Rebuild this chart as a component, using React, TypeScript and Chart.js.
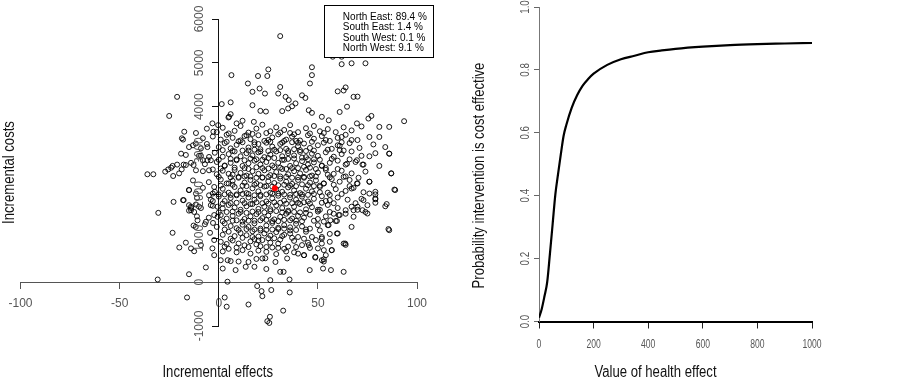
import React, { useEffect, useRef } from "react";
import { Chart, registerables } from "chart.js";

Chart.register(...registerables);

// ---------- Left panel: cost-effectiveness plane ----------
const effectTicks = [-100, -50, 0, 50, 100];
const costTicks = [-1000, 0, 1000, 2000, 3000, 4000, 5000, 6000];
const quadrantLabels = [
  "North East: 89.4 %",
  "South East: 1.4 %",
  "South West: 0.1 %",
  "North West: 9.1 %",
];
const meanPoint: [number, number] = [28.3, 2140];
const planeXTitle = "Incremental effects";
const planeYTitle = "Incremental costs";

// simulated (incremental effect, incremental cost) pairs
const simulationDraws: [number, number][] = [
  // upper sparse region
  [31, 5610], [57.5, 5140], [62, 5140], [67, 4990], [62, 4970], [74, 4990], [47, 4900], [47, 4720],
  [46, 4530], [64, 4440], [60, 4350], [63, 4370], [68, 4225], [70, 4230], [31, 4450], [30, 4300],
  [33.7, 4225], [35.3, 4150], [42, 4260], [43.7, 4200], [38.7, 4075], [37, 4010], [35, 3960], [32, 3900],
  [45.4, 3920], [47, 3860], [52, 3770], [55.5, 3690], [61, 3880], [64.7, 4000], [69.7, 3620], [75.5, 3730],
  [77, 3790], [81, 3540], [86, 3540], [93.5, 3670], [6.4, 4720], [25, 4850], [19.8, 4700], [24.5, 4700],
  [14.7, 4530], [20.6, 4415], [17, 4340], [23.3, 4300], [-21, 4225], [1.5, 4060], [6, 4100], [17, 4035],
  [-25, 3790], [6, 3830], [4.9, 3755], [21, 3905], [23.8, 3890], [-0.3, 3580], [9, 3620], [12, 3680],
  [17.7, 3655], [5.2, 3770], [-3.2, 3620],
  // left sparse region
  [-36, 2460], [-33, 2460], [-30.5, 1580], [-22.8, 1830], [-17.7, 1870], [-24, 2610], [-25.5, 2570],
  [-23, 2420], [-18.7, 2570], [-16.6, 2670], [-12.7, 2670], [-15, 2100], [-11.5, 2020], [-14, 1720],
  [-15, 1630], [-11.6, 1770], [-10, 1720], [-18, 3250], [-17.4, 3430], [-11.5, 3400], [-15, 3080],
  [-9, 3050], [-4.9, 2855], [-4, 2780], [-3, 2570], [-8, 2780], [-11.5, 2550], [-9, 2880], [-2.7, 3430],
  [-6.5, 1375], [-10.7, 1410], [-12.7, 1290], [-3, 2020], [-2.3, 2170], [-3, 1850], [-0.6, 1490],
  [-0.6, 1720], [-23.3, 1125], [-15, 180], [-6.5, 335], [-16.6, 900], [-19.9, 790], [-14, 770],
  [-12.4, 705], [-9, 845], [-2.3, 615], [-3.2, 770], [-2.3, 960], [-11.6, 1260], [-4.4, 1125],
  [-2.9, 1350], [-14, 1640], [-12.4, 1600], [-15, 1755], [-4, 1755], [-2.3, 1530], [-4.9, 1980],
  [-30.8, 60], [-16, -350], [-18.6, 3280], [-11.6, 3160], [-16.6, 2900], [-23.3, 2650], [-17.7, 2680],
  [-5.7, 3080], [-5.7, 2780], [-4.9, 2550],
  // core rows
  [2, 3520], [8, 3450], [11, 3560], [15, 3410], [19, 3500], [22, 3590], [26, 3440], [29, 3530],
  [33, 3470], [36, 3580], [40, 3420], [44, 3510], [48, 3560], [51, 3440], [55, 3490], [59, 3420],
  [63, 3530], [67, 3460], [72, 3550], [-6, 3500], [-1, 3420],
  [-8, 3280], [-3, 3320], [1, 3250], [4, 3360], [7, 3290], [10, 3210], [13, 3330], [16, 3260],
  [20, 3350], [23, 3220], [27, 3300], [30, 3370], [34, 3250], [37, 3320], [41, 3230], [45, 3350],
  [48, 3270], [52, 3330], [56, 3220], [60, 3290], [64, 3360], [70, 3240], [76, 3310],
  [-13, 3120], [-6, 3150], [0, 3080], [3, 3170], [6, 3050], [9, 3130], [12, 3190], [15, 3070],
  [18, 3140], [21, 3030], [24, 3180], [27, 3090], [31, 3150], [34, 3040], [37, 3190], [40, 3100],
  [43, 3160], [46, 3060], [50, 3120], [53, 3180], [57, 3040], [61, 3110], [66, 3170], [71, 3060],
  [78, 3140], [84, 3080],
  [-19, 2930], [-10, 2880], [-2, 2950], [2, 2860], [5, 2920], [8, 2980], [11, 2870], [14, 2940],
  [17, 2890], [20, 2960], [23, 2850], [26, 2910], [29, 2980], [32, 2870], [35, 2940], [38, 2890],
  [41, 2970], [44, 2850], [47, 2930], [50, 2880], [54, 2960], [58, 2860], [62, 2920], [67, 2980],
  [72, 2880], [79, 2940], [86, 2930],
  [-21, 2680], [-14, 2720], [-7, 2690], [-1, 2740], [3, 2660], [6, 2720], [9, 2780], [12, 2650],
  [15, 2710], [18, 2770], [21, 2680], [24, 2740], [27, 2660], [30, 2720], [33, 2790], [36, 2650],
  [39, 2710], [42, 2760], [45, 2680], [48, 2730], [52, 2660], [56, 2720], [60, 2770], [64, 2680],
  [69, 2740], [73, 2680], [81, 2650],
  [-27, 2520], [-20, 2480], [-8, 2530], [-1, 2460], [2, 2540], [5, 2470], [8, 2560], [11, 2490],
  [14, 2430], [17, 2530], [20, 2470], [23, 2550], [26, 2440], [29, 2510], [32, 2580], [35, 2460],
  [38, 2530], [41, 2480], [44, 2560], [47, 2430], [50, 2500], [54, 2560], [58, 2470], [62, 2540],
  [67, 2480], [74, 2520], [87, 2480],
  [-13, 2320], [-5, 2280], [1, 2340], [4, 2250], [7, 2310], [10, 2380], [13, 2270], [16, 2330],
  [19, 2250], [22, 2390], [25, 2300], [28, 2260], [31, 2360], [34, 2290], [37, 2240], [40, 2330],
  [43, 2380], [46, 2270], [49, 2320], [53, 2250], [57, 2350], [61, 2290], [66, 2330], [70, 2250],
  [76, 2290],
  [-15, 2100], [-8, 2150], [-2, 2060], [2, 2130], [5, 2040], [8, 2170], [11, 2090], [14, 2030],
  [17, 2140], [20, 2070], [23, 2180], [26, 2040], [29, 2110], [32, 2060], [35, 2160], [38, 2090],
  [41, 2030], [44, 2130], [47, 2070], [51, 2170], [55, 2040], [59, 2120], [64, 2080], [68, 2150],
  [73, 2050], [79, 2060], [89, 2100],
  [-18, 1870], [-11, 1920], [-4, 1880], [0, 1950], [3, 1850], [6, 1920], [9, 1980], [12, 1860],
  [15, 1930], [18, 1880], [21, 1960], [24, 1840], [27, 1910], [30, 1970], [33, 1860], [36, 1930],
  [39, 1880], [42, 1950], [45, 1840], [48, 1900], [52, 1960], [56, 1870], [60, 1930], [65, 1880],
  [72, 1900], [79, 1890],
  [-14, 1690], [-9, 1690], [-3, 1740], [2, 1680], [5, 1760], [8, 1700], [11, 1650], [14, 1730],
  [17, 1780], [20, 1670], [23, 1720], [26, 1660], [29, 1750], [32, 1690], [35, 1630], [38, 1720],
  [41, 1780], [44, 1660], [47, 1710], [51, 1650], [55, 1760], [60, 1690], [64, 1640], [70, 1720],
  [75, 1755], [84, 1730],
  [-11, 1500], [-5, 1470], [1, 1530], [4, 1450], [7, 1510], [10, 1560], [13, 1440], [16, 1500],
  [19, 1550], [22, 1460], [25, 1520], [28, 1430], [31, 1490], [34, 1560], [37, 1450], [40, 1510],
  [43, 1470], [46, 1540], [50, 1440], [54, 1500], [58, 1560], [61, 1530], [68, 1490], [75, 1565],
  [-7, 1320], [-1, 1260], [3, 1340], [6, 1280], [9, 1230], [12, 1310], [15, 1260], [18, 1340],
  [21, 1220], [24, 1290], [27, 1350], [30, 1240], [33, 1300], [36, 1250], [39, 1330], [42, 1270],
  [46, 1220], [50, 1300], [55, 1300], [59, 1395], [67, 1260],
  [2, 1080], [5, 1150], [8, 1050], [11, 1120], [14, 1070], [17, 1160], [20, 1040], [23, 1110],
  [26, 1060], [29, 1140], [33, 1080], [36, 1110], [40, 1030], [44, 1150], [47, 1030], [52, 1030],
  [56, 1100], [60, 1110], [86, 1185],
  [1, 920], [4, 870], [7, 950], [10, 880], [13, 840], [16, 930], [19, 860], [22, 960], [26, 900],
  [30, 880], [35, 810], [38, 940], [42, 845], [45, 900], [52, 880], [56, 920], [63, 880], [64, 850],
  [2, 700], [5, 760], [9, 680], [12, 730], [16, 650], [20, 720], [24, 690], [29, 640], [34, 700],
  [38, 680], [40, 650], [43, 615], [50, 770], [53, 730], [57, 730],
  [1, 500], [4.5, 500], [6, 480], [10, 470], [15, 460], [19, 530], [22, 540], [23.5, 545], [28.6, 460],
  [34.5, 540], [48.7, 560], [53, 520], [53, 470], [54, 615],
  [2, 310], [8.5, 275], [13.6, 350], [31, 235], [32.7, 235], [45.9, 275], [52.6, 310], [56.6, 275],
  [63, 235], [18, 350], [24, 300],
  // below the effects axis
  [4.4, 10], [19.4, -90], [21.6, -205], [22, -320], [26.5, -180], [26, 45], [35.8, -235],
  [35.7, 60], [32.5, -650], [25.8, -790], [24.5, -890], [25.5, -930], [3, -350], [4, -560],
  [15, -510],
  // right sparse region
  [81, 3310], [86, 2930], [76, 2870], [69.7, 2780], [72.5, 2680], [87, 2480], [76, 2290],
  [70.5, 2380], [69.7, 2250], [88.6, 2110], [79, 2000], [79, 1810], [76, 2020], [73, 1870],
  [72.5, 1640], [69, 1800], [74, 1600], [70, 1650], [67, 1720], [64, 1560], [67, 2135],
  [63, 2400], [64.7, 2700], [67, 3240], [62, 3310], [60, 3120], [61, 3010], [85.6, 1210],
  [84.7, 1780], [79, 1910], [68, 1640], [60.5, 1530], [59.6, 1395], [56.3, 1410], [55.4, 1300],
  [52, 995], [48.7, 575], [43, 615], [45.4, 845], [52, 500], [63.8, 880], [59.6, 1110], [57, 730],
  // dense centre
  [12, 3000], [18, 3020], [25, 2990], [31, 3010], [38, 3030], [44, 2990], [9, 2800], [16, 2820],
  [22, 2790], [28, 2830], [35, 2810], [42, 2840], [48, 2800], [13, 2600], [19, 2620], [25, 2590],
  [31, 2610], [37, 2600], [43, 2630], [49, 2580], [10, 2400], [16, 2410], [22, 2380], [28, 2420],
  [34, 2400], [40, 2390], [46, 2410], [12, 2200], [18, 2220], [24, 2190], [30, 2210], [36, 2200],
  [42, 2230], [48, 2190], [9, 2000], [15, 2010], [21, 1990], [27, 2020], [33, 2000], [39, 2010],
  [45, 1990], [13, 1800], [19, 1820], [25, 1790], [31, 1810], [37, 1800], [43, 1820], [11, 1600],
  [17, 1610], [23, 1590], [29, 1620], [35, 1600], [41, 1590], [15, 1400], [21, 1410], [27, 1390],
  [33, 1420], [39, 1400], [18, 1200], [24, 1190], [30, 1210], [36, 1180],
  [3, 2650], [7, 2450], [5, 2250], [3, 2000], [6, 1800], [4, 1600], [7, 1400], [52, 2650],
  [55, 2450], [53, 2250], [51, 2050], [54, 1850], [50, 1650], [26, 3200], [20, 3150], [33, 3220],
  [40, 3180], [14, 3350], [36, 3400], [28, 1000], [20, 950], [32, 1050], [17, 1030], [24, 800],
  [30, 780],
  // second dense layer
  [5, 3390], [17, 3380], [24, 3400], [31, 3410], [38, 3370], [46, 3390], [53, 3400],
  [4, 3200], [11, 3230], [18, 3190], [25, 3240], [32, 3180], [39, 3220], [47, 3200], [54, 3240], [62, 3190],
  [2, 3010], [7, 2990], [15, 3000], [21, 2980], [28, 3020], [35, 2990], [41, 3010], [48, 3000], [55, 3020], [63, 3000],
  [0, 2790], [6, 2810], [13, 2780], [19, 2800], [25, 2830], [32, 2790], [38, 2820], [45, 2800], [51, 2790], [57, 2810], [66, 2800],
  [1, 2590], [8, 2610], [15, 2580], [22, 2600], [28, 2620], [34, 2580], [40, 2600], [46, 2610], [54, 2600], [60, 2580],
  [0, 2400], [6, 2390], [13, 2410], [19, 2380], [25, 2400], [31, 2410], [37, 2380], [43, 2400], [49, 2410], [56, 2390], [64, 2410],
  [1, 2200], [7, 2220], [14, 2190], [21, 2210], [27, 2180], [33, 2220], [39, 2190], [45, 2210], [51, 2200], [58, 2220], [66, 2190],
  [0, 2000], [6, 1990], [12, 2010], [18, 1980], [24, 2000], [30, 2020], [36, 1990], [42, 2000], [48, 2010], [56, 1990], [62, 2010],
  [2, 1790], [9, 1810], [16, 1780], [22, 1800], [28, 1820], [34, 1790], [40, 1810], [46, 1790], [52, 1810], [58, 1800],
  [0, 1590], [7, 1610], [14, 1580], [20, 1600], [26, 1620], [32, 1590], [38, 1600], [44, 1580], [50, 1610], [56, 1600],
  [2, 1390], [9, 1410], [12, 1380], [18, 1400], [24, 1420], [30, 1390], [36, 1410], [42, 1390], [48, 1400], [53, 1380],
  [3, 1200], [10, 1190], [14, 1210], [21, 1180], [27, 1200], [33, 1220], [39, 1190], [44, 1200], [51, 1180],
  [6, 990], [12, 1010], [18, 980], [25, 1000], [31, 970], [37, 1010], [43, 990], [49, 960],
  [3, 810], [9, 790], [15, 800], [21, 820], [27, 790], [33, 760], [39, 800], [46, 780],
];

// ---------- Right panel: acceptability curve ----------
const wtpTicks = [0, 200, 400, 600, 800, 1000];
const probTicks = [0, 0.2, 0.4, 0.6, 0.8, 1.0];
const wtpValues = [0, 10, 20, 30, 40, 50, 60, 70, 80, 90, 100, 120, 140, 160, 180, 200, 250, 300, 350, 400, 450, 500, 600, 700, 800, 900, 1000];
const probCostEffective = [0.012, 0.04, 0.08, 0.125, 0.215, 0.31, 0.405, 0.47, 0.532, 0.59, 0.625, 0.68, 0.72, 0.75, 0.771, 0.788, 0.816, 0.834, 0.845, 0.856, 0.862, 0.867, 0.874, 0.879, 0.882, 0.884, 0.886];
const ceacXTitle = "Value of health effect";
const ceacYTitle = "Probability intervention is cost effective";

const SANS = '"Liberation Sans", Arial, sans-serif';

type TextOpts = {
  size: number;
  sx?: number;
  rotate?: boolean;
  align?: CanvasTextAlign;
  baseline?: CanvasTextBaseline;
  color?: string;
};

function drawText(ctx: CanvasRenderingContext2D, text: string, x: number, y: number, o: TextOpts) {
  ctx.save();
  ctx.translate(x, y);
  if (o.rotate) ctx.rotate(-Math.PI / 2);
  ctx.scale(o.sx ?? 1, 1);
  ctx.font = `${o.size}px ${SANS}`;
  ctx.fillStyle = o.color ?? "#000";
  ctx.textAlign = o.align ?? "center";
  ctx.textBaseline = o.baseline ?? "middle";
  ctx.fillText(text, 0, 0);
  ctx.restore();
}

const planeDecor = {
  id: "planeDecor",
  afterDraw(chart: any) {
    const ctx: CanvasRenderingContext2D = chart.ctx;
    const xs = chart.scales.x;
    const ys = chart.scales.y;
    const axisX = xs.getPixelForValue(0);
    for (const v of costTicks) {
      drawText(ctx, String(v), axisX - 19, ys.getPixelForValue(v), { size: 12, rotate: true, color: "#555" });
    }
    drawText(ctx, planeXTitle, axisX - 1, 377, { size: 16, sx: 0.82, baseline: "alphabetic", color: "#111" });
    drawText(ctx, planeYTitle, 13.5, (ys.top + ys.bottom) / 2, { size: 16, sx: 0.82, rotate: true, baseline: "alphabetic", color: "#111" });
    // quadrant legend
    const right = xs.getPixelForValue(108);
    const top = ys.getPixelForValue(6000 + 0.04 * 7000) - 1.5;
    const w = 109;
    const h = 52;
    ctx.save();
    ctx.fillStyle = "#fff";
    ctx.fillRect(right - w, top, w, h);
    ctx.strokeStyle = "#000";
    ctx.lineWidth = 1;
    ctx.strokeRect(Math.round(right - w) + 0.5, Math.round(top) + 0.5, w, h);
    ctx.restore();
    quadrantLabels.forEach((t, i) => {
      drawText(ctx, t, right - w + 19, top + 12 + i * 10.3, { size: 10, align: "left", color: "#000" });
    });
  },
};

const ceacDecor = {
  id: "ceacDecor",
  afterDraw(chart: any) {
    const ctx: CanvasRenderingContext2D = chart.ctx;
    const xs = chart.scales.x;
    const ys = chart.scales.y;
    for (const v of probTicks) {
      drawText(ctx, v.toFixed(1), ys.left - 14, ys.getPixelForValue(v), { size: 13, sx: 0.75, rotate: true, color: "#555" });
    }
    for (const v of wtpTicks) {
      drawText(ctx, String(v), xs.getPixelForValue(v), ys.bottom + 23, { size: 13, sx: 0.66, color: "#555" });
    }
    drawText(ctx, ceacXTitle, 205.5, 377, { size: 16, sx: 0.82, baseline: "alphabetic", color: "#111" });
    drawText(ctx, ceacYTitle, 33.5, 175.5, { size: 16, sx: 0.82, rotate: true, baseline: "alphabetic", color: "#111" });
  },
};

export default function App() {
  const leftRef = useRef<HTMLCanvasElement | null>(null);
  const rightRef = useRef<HTMLCanvasElement | null>(null);

  useEffect(() => {
    document.body.style.margin = "0";
    const zeroW = (s: any) => { s.width = 0; };
    const zeroH = (s: any) => { s.height = 0; };

    const left = new Chart(leftRef.current as HTMLCanvasElement, {
      type: "scatter",
      data: {
        datasets: [
          {
            data: [{ x: meanPoint[0], y: meanPoint[1] }],
            pointRadius: 3,
            pointBackgroundColor: "#ff0000",
            pointBorderColor: "#ff0000",
            pointBorderWidth: 0,
          },
          {
            data: simulationDraws.map(([x, y]) => ({ x, y })),
            pointRadius: 2.5,
            pointBackgroundColor: "rgba(0,0,0,0)",
            pointBorderColor: "#000",
            pointBorderWidth: 0.9,
          },
        ],
      },
      options: {
        responsive: false,
        animation: false,
        devicePixelRatio: 1,
        events: [],
        layout: { padding: { left: 19, right: 33, top: 19, bottom: 52 } },
        plugins: { legend: { display: false }, tooltip: { enabled: false } },
        scales: {
          x: {
            type: "linear",
            min: -100,
            max: 100,
            position: { y: 0 } as any,
            afterFit: zeroH,
            afterBuildTicks: (s: any) => { s.ticks = effectTicks.map((v) => ({ value: v })); },
            grid: { drawOnChartArea: false, drawTicks: true, tickLength: 6, tickColor: "#555", tickWidth: 1 },
            border: { display: true, color: "#555", width: 1 },
            ticks: {
              color: "#555",
              font: { family: SANS, size: 12 },
              padding: 8.5,
              minRotation: 0,
              maxRotation: 0,
              autoSkip: false,
              callback: (v: any) => String(v),
            },
          },
          y: {
            type: "linear",
            min: -1000,
            max: 6000,
            position: { x: 0 } as any,
            afterFit: zeroW,
            afterBuildTicks: (s: any) => { s.ticks = costTicks.map((v) => ({ value: v })); },
            grid: { drawOnChartArea: false, drawTicks: true, tickLength: 6, tickColor: "#111", tickWidth: 1 },
            border: { display: true, color: "#111", width: 1 },
            ticks: { display: false },
          },
        },
      },
      plugins: [planeDecor],
    });

    const right = new Chart(rightRef.current as HTMLCanvasElement, {
      type: "line",
      data: {
        datasets: [
          {
            data: wtpValues.map((x, i) => ({ x, y: probCostEffective[i] })),
            borderColor: "#000",
            borderWidth: 2.2,
            pointRadius: 0,
            cubicInterpolationMode: "monotone",
            fill: false,
          },
        ],
      },
      options: {
        responsive: false,
        animation: false,
        devicePixelRatio: 1,
        events: [],
        layout: { padding: { left: 89, right: 87, top: 7, bottom: 56.5 } },
        plugins: { legend: { display: false }, tooltip: { enabled: false } },
        scales: {
          x: {
            type: "linear",
            min: 0,
            max: 1000,
            position: "bottom",
            afterFit: zeroH,
            afterBuildTicks: (s: any) => { s.ticks = wtpTicks.map((v) => ({ value: v })); },
            grid: { drawOnChartArea: false, drawTicks: true, tickLength: 7, tickColor: "#222", tickWidth: 1 },
            border: { display: true, color: "#000", width: 2 },
            ticks: { display: false },
          },
          y: {
            type: "linear",
            min: 0,
            max: 1,
            position: "left",
            afterFit: zeroW,
            afterBuildTicks: (s: any) => { s.ticks = probTicks.map((v) => ({ value: v })); },
            grid: { drawOnChartArea: false, drawTicks: true, tickLength: 5, tickColor: "#666", tickWidth: 1 },
            border: { display: true, color: "#777", width: 1 },
            ticks: { display: false },
          },
        },
      },
      plugins: [ceacDecor],
    });

    return () => {
      left.destroy();
      right.destroy();
    };
  }, []);

  return (
    <div style={{ position: "fixed", left: 0, top: 0, width: 899, height: 378, background: "#fff" }}>
      <canvas ref={leftRef} width={450} height={378} style={{ position: "absolute", left: 0, top: 0, width: 450, height: 378 }} />
      <canvas ref={rightRef} width={449} height={378} style={{ position: "absolute", left: 450, top: 0, width: 449, height: 378 }} />
    </div>
  );
}
